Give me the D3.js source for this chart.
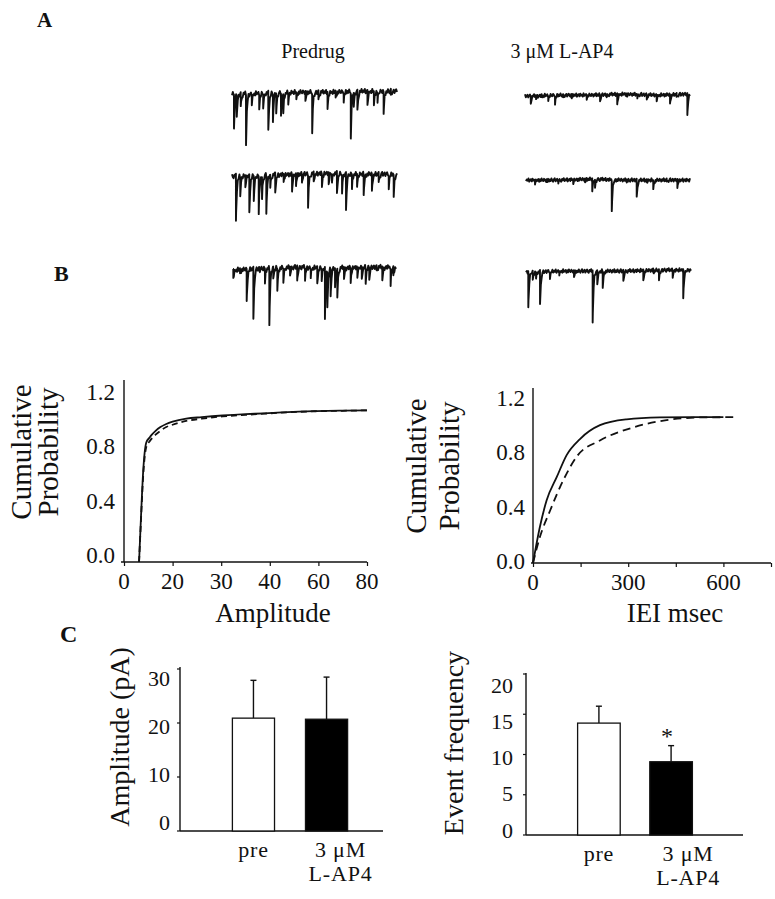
<!DOCTYPE html>
<html><head><meta charset="utf-8">
<script src="https://cdn.jsdelivr.net/npm/d3@7"></script>
<style>
body{margin:0;background:#fff}
svg{display:block}
text{font-family:"Liberation Serif","Times New Roman",serif;fill:#111}
</style>
</head><body>
<svg id="fig" width="775" height="899"></svg>
<script>
// ---------------- DATA ----------------
const conditions = ["Predrug", "3 μM L-AP4"];

// spontaneous events: [time ms (0-1000 sweep), amplitude pA]
const predrug1Events = [[12,34],[29,20],[53,14],[85,50],[120,10],[165,14],[189,14],[220,39],[248,27],[268,20],[297,22],[311,19],[341,10],[390,7],[445,10],[486,39],[524,9],[579,17],[628,7],[677,9],[720,45],[738,14],[760,20],[821,15],[860,14],[882,10],[919,22],[963,6]];
const predrug2Events = [[24,47],[50,18],[81,12],[105,38],[132,25],[162,38],[182,22],[208,37],[232,13],[262,20],[313,8],[364,17],[388,13],[424,8],[461,32],[495,10],[545,13],[586,12],[606,8],[636,22],[667,18],[691,38],[727,15],[758,13],[798,20],[848,17],[889,10],[950,13],[980,22]];
const predrug3Events = [[2,9],[43,5],[84,32],[125,52],[161,4],[196,15],[223,55],[247,12],[272,22],[309,14],[350,9],[394,15],[442,12],[477,9],[517,17],[544,12],[564,52],[579,35],[599,27],[626,19],[640,29],[681,12],[722,15],[763,9],[790,12],[814,15],[836,12],[881,5],[916,14],[967,17],[984,9]];
const lap1Events = [[35,7],[67,4],[101,3],[141,4],[182,8],[232,3],[283,3],[374,3],[455,6],[495,3],[559,11],[616,3],[681,3],[738,4],[798,5],[879,9],[919,4],[984,22]];
const lap2Events = [[55,3],[126,3],[197,2],[288,3],[360,4],[404,13],[421,8],[523,30],[614,3],[675,18],[736,3],[776,9],[858,3],[923,9]];
const lap3Events = [[14,36],[41,9],[61,6],[85,34],[145,6],[202,3],[291,7],[404,52],[432,14],[465,16],[590,11],[711,11],[771,4],[806,11],[889,6],[953,29]];

// slow baseline drift (pA, + = inward/down), evenly over the sweep
const predrug1Drift = [1,0,-1,-1,-2,-2];
const predrug2Drift = [1,0,-1,-2,-1,-1];
const predrug3Drift = [2,0,-1,0,-1,-1];
const lap1Drift = [1,0,0,-1,0,-1];
const lap2Drift = [0,0,-1,0,0,0];
const lap3Drift = [1,0,0,0,-1,-1];
// recording noise read as baseline thickness (normalised)
const baselineNoise = [0.6,-0.9,0.3,1.0,-0.4,-1.0,0.8,0.1,-0.7,0.9,-0.2,-0.8,0.5,1.0,-0.6,0.2,-1.0,0.7,-0.3,0.4,-0.9,1.0,0.0,-0.5,0.8,-0.8,0.3,-0.2,0.9,-1.0,0.5,0.1,-0.6,1.0,-0.4,0.7,-0.9,0.2,0.6,-0.7,-0.1,0.9,-0.5,0.4,-1.0,0.8,-0.3];

// cumulative amplitude distributions
const ampTicks = [0,20,30,40,60,80];
const ampX    = [6.2, 7, 7.9, 9.2, 10.5, 11.2, 13, 15, 17.4, 20, 22.8, 26, 30.3, 35, 38.8, 45, 52, 59, 70, 80];
const ampPre  = [0, 0.3, 0.6, 0.79, 0.82, 0.835, 0.865, 0.89, 0.91, 0.925, 0.945, 0.955, 0.966, 0.975, 0.98, 0.987, 0.992, 0.995, 0.998, 1.0];
const ampDrug = [0, 0.28, 0.57, 0.76, 0.795, 0.81, 0.84, 0.865, 0.89, 0.905, 0.93, 0.945, 0.96, 0.97, 0.978, 0.985, 0.99, 0.994, 0.997, 1.0];
const probTicks = [0, 0.4, 0.8, 1.2];

// cumulative inter-event interval distributions
const ieiTicks = [0,150,300,450,600,750];
const ieiLabels = [0,300,600];
const ieiPreT  = [0, 22, 43, 75, 106, 148, 211, 295, 400, 500, 600];
const ieiPreP  = [0, 0.25, 0.43, 0.59, 0.74, 0.85, 0.945, 0.985, 0.998, 1.0, 1.0];
const ieiDrugT = [0, 22, 54, 96, 138, 211, 316, 421, 526, 631];
const ieiDrugP = [0, 0.18, 0.36, 0.57, 0.73, 0.84, 0.93, 0.98, 0.998, 1.0];

// bar summaries
const groups = ["pre", "3 μM\nL-AP4"];
const ampMean = [20.9, 20.7];
const ampErr  = [7.0, 7.8];
const ampBarTicks = [0,10,20,30];
const freqMean = [13.9, 9.1];
const freqErr  = [2.1, 2.0];
const freqBarTicks = [0,5,10,15,20];
const freqSig = ["", "*"];

// ---------------- DRAW ----------------
const svg = d3.select("#fig");
const ink = "#111";

function label(txt, x, y, size, opts={}) {
  const t = svg.append("text").attr("x", x).attr("y", y).attr("font-size", size).text(txt);
  if (opts.anchor) t.attr("text-anchor", opts.anchor);
  if (opts.bold) t.attr("font-weight", "bold");
  if (opts.rotate) t.attr("transform", `rotate(-90 ${x} ${y})`);
  return t;
}

// panel letters
label("A", 37, 27, 21, {bold:true});
label("B", 54, 281, 22, {bold:true});
label("C", 60, 642, 24, {bold:true});

// column headers
label(conditions[0], 313, 58, 20, {anchor:"middle"});
label(conditions[1], 562, 58, 20, {anchor:"middle"});

// traces
function drawTrace(events, drift, noiseOffset, noiseAmp, x0, x1, yBase) {
  const x = d3.scaleLinear().domain([0,1000]).range([x0,x1]);
  const y = d3.scaleLinear().domain([0,60]).range([yBase, yBase+60]);
  const driftScale = d3.scaleLinear()
    .domain(drift.map((d,i)=>i*1000/(drift.length-1))).range(drift);
  const tau = 5, step = 5;
  const times = d3.range(0, 1000.001, step);
  events.forEach(([t]) => { times.push(t-0.3, t); });
  times.sort((a,b)=>a-b);
  const pts = times.map(t => {
    const gi = Math.round(t/step);
    let v = driftScale(Math.max(0,Math.min(1000,t))) +
            baselineNoise[(gi + noiseOffset) % baselineNoise.length]*noiseAmp;
    for (const [te,a] of events) if (t >= te) v += a*Math.exp(-(t-te)/tau);
    return [x(t), y(v)];
  });
  svg.append("path").attr("d", d3.line()(pts))
    .attr("fill","none").attr("stroke",ink).attr("stroke-width",1.9)
    .attr("stroke-linejoin","round");
}
drawTrace(predrug1Events, predrug1Drift, 0, 2.2, 232, 397, 93);
drawTrace(predrug2Events, predrug2Drift, 11, 2.2, 232, 397, 175);
drawTrace(predrug3Events, predrug3Drift, 23, 2.2, 233, 396, 268);
drawTrace(lap1Events, lap1Drift, 5, 1.7, 525, 690, 95);
drawTrace(lap2Events, lap2Drift, 17, 1.7, 526, 690, 180);
drawTrace(lap3Events, lap3Drift, 31, 1.8, 526, 691, 271);

// ---- cumulative plots ----
function cumPlot(cfg) {
  const g = svg.append("g");
  g.append("line").attr("x1",cfg.x.range()[0]).attr("x2",cfg.x.range()[0])
    .attr("y1",cfg.y(0)).attr("y2",cfg.yTop).attr("stroke",ink).attr("stroke-width",1.4);
  const ax = g.append("g").attr("transform",`translate(0,${cfg.y(0)})`)
    .call(d3.axisBottom(cfg.x).tickValues(cfg.xTicks).tickSize(4).tickSizeOuter(0).tickFormat(""));
  ax.select(".domain").attr("stroke",ink).attr("stroke-width",1.4)
    .attr("d", `M${cfg.xStart},0H${cfg.xEnd}`);
  ax.selectAll(".tick line").attr("stroke",ink).attr("stroke-width",1.2);
  g.selectAll(".xl").data(cfg.xLabels).join("text")
    .attr("x", d=>cfg.x(d)).attr("y", cfg.y(0)+27).attr("text-anchor","middle")
    .attr("font-size",23).text(d=>d);
  g.selectAll(".yl").data(probTicks).join("text")
    .attr("x", cfg.yLabX).attr("y", d=>cfg.yLab(d)).attr("dy","0.35em")
    .attr("text-anchor","end").attr("font-size",23).text(d3.format(".1f"));
  const line = d3.line().x(d=>cfg.x(d[0])).y(d=>cfg.y(d[1])).curve(d3.curveMonotoneX);
  g.append("path").attr("d", line(d3.zip(cfg.preX, cfg.preP)))
    .attr("fill","none").attr("stroke",ink).attr("stroke-width",1.8);
  g.append("path").attr("d", line(d3.zip(cfg.drugX, cfg.drugP)))
    .attr("fill","none").attr("stroke",ink).attr("stroke-width",1.8)
    .attr("stroke-dasharray", cfg.dash);
  label("Cumulative", cfg.titleX1, cfg.titleCy, 29, {anchor:"middle", rotate:true});
  label("Probability", cfg.titleX2, cfg.titleCy, 29, {anchor:"middle", rotate:true});
  label(cfg.xTitle, cfg.xTitleX, 622, 27, {anchor:"middle"});
}

const xAmp = d3.scaleLinear().domain(ampTicks).range(ampTicks.map((d,i)=>124 + i*48.6));
cumPlot({
  x: xAmp, y: d3.scaleLinear().domain([0,1.2]).range([562,380]), yTop: 380,
  yLab: d3.scaleLinear().domain([0,1.2]).range([555,392]), yLabX: 115,
  xTicks: ampTicks, xLabels: ampTicks, xStart: 121, xEnd: 367,
  preX: ampX, preP: ampPre, drugX: ampX, drugP: ampDrug, dash: "6,4",
  titleX1: 31, titleX2: 58, titleCy: 452, xTitle: "Amplitude", xTitleX: 273
});
const xIEI = d3.scaleLinear().domain([0,750]).range([533,771]);
cumPlot({
  x: xIEI, y: d3.scaleLinear().domain([0,1.2]).range([563,388]), yTop: 388,
  yLab: d3.scaleLinear().domain([0,1.2]).range([561,398]), yLabX: 525,
  xTicks: ieiTicks, xLabels: ieiLabels, xStart: 531, xEnd: 771,
  preX: ieiPreT, preP: ieiPreP, drugX: ieiDrugT, drugP: ieiDrugP, dash: "8,5",
  titleX1: 426, titleX2: 459, titleCy: 466, xTitle: "IEI msec", xTitleX: 675
});

// ---- bar charts ----
function barPlot(cfg) {
  const g = svg.append("g");
  const x = d3.scaleBand().domain(groups).range(cfg.xRange).paddingInner(cfg.pi).paddingOuter(cfg.po);
  const y = cfg.y;
  g.append("line").attr("x1",cfg.xRange[0]).attr("x2",cfg.xRange[0])
    .attr("y1",y(0)).attr("y2",cfg.yTop).attr("stroke",ink).attr("stroke-width",1.4);
  g.append("line").attr("x1",cfg.xRange[0]).attr("x2",cfg.xEnd)
    .attr("y1",y(0)).attr("y2",y(0)).attr("stroke",ink).attr("stroke-width",1.6);
  g.selectAll(".tk").data(cfg.ticks).join("line")
    .attr("x1",cfg.xRange[0]-3).attr("x2",cfg.xRange[0])
    .attr("y1",d=>y(d)).attr("y2",d=>y(d)).attr("stroke",ink).attr("stroke-width",1.2);
  g.selectAll(".tl").data(cfg.ticks).join("text")
    .attr("x",cfg.labX).attr("y",d=>cfg.yLab(d)).attr("dy","0.35em")
    .attr("text-anchor","end").attr("font-size",22).text(d=>d);
  g.selectAll(".eb").data(groups).join("line")
    .attr("x1",d=>x(d)+x.bandwidth()/2).attr("x2",d=>x(d)+x.bandwidth()/2)
    .attr("y1",(d,i)=>y(cfg.mean[i])).attr("y2",(d,i)=>y(cfg.mean[i]+cfg.err[i]))
    .attr("stroke",ink).attr("stroke-width",1.4);
  g.selectAll(".ec").data(groups).join("line")
    .attr("x1",d=>x(d)+x.bandwidth()/2-3).attr("x2",d=>x(d)+x.bandwidth()/2+3)
    .attr("y1",(d,i)=>y(cfg.mean[i]+cfg.err[i])).attr("y2",(d,i)=>y(cfg.mean[i]+cfg.err[i]))
    .attr("stroke",ink).attr("stroke-width",1.4);
  g.selectAll(".bar").data(groups).join("rect")
    .attr("x",d=>x(d)+0.5).attr("width",x.bandwidth()-1)
    .attr("y",(d,i)=>y(cfg.mean[i])).attr("height",(d,i)=>y(0)-y(cfg.mean[i]))
    .attr("fill",(d,i)=>i===0?"#fff":"#000").attr("stroke",ink).attr("stroke-width",1.3);
  if (cfg.sig) g.selectAll(".sg").data(groups).join("text")
    .attr("x",d=>x(d)+x.bandwidth()/2-4).attr("y",(d,i)=>y(cfg.mean[i]+cfg.err[i])-2)
    .attr("text-anchor","middle").attr("font-size",24).text((d,i)=>cfg.sig[i]);
  g.selectAll(".cl").data(groups).join("text")
    .attr("x",(d,i)=>x(d)+x.bandwidth()/2+(i===0?0:cfg.lab2dx))
    .attr("y",y(0)+26).attr("text-anchor","middle").attr("font-size",22)
    .attr("letter-spacing", 0.8)
    .each(function(d){
      const el = d3.select(this);
      d.split("\n").forEach((s,j)=>el.append("tspan")
        .attr("x",el.attr("x")).attr("dy", j===0?0:"1.1em").text(s));
    });
  label(cfg.yTitle, cfg.yTitleX, cfg.yTitleCy, 28, {anchor:"middle", rotate:true});
}

barPlot({
  xRange:[180,400], xEnd:383, pi:0.41, po:0.71,
  y: d3.scaleLinear().domain([0,30]).range([831,669]), yTop: 667,
  yLab: d3.scaleLinear().domain([0,30]).range([822,678]), labX: 170,
  ticks: ampBarTicks, mean: ampMean, err: ampErr, lab2dx: 14,
  yTitle: "Amplitude (pA)", yTitleX: 129, yTitleCy: 737
});
barPlot({
  xRange:[526,744], xEnd:743, pi:0.396, po:0.708,
  y: d3.scaleLinear().domain([0,20]).range([835,674]), yTop: 673,
  yLab: d3.scaleLinear().domain([0,20]).range([830,685]), labX: 513,
  ticks: freqBarTicks, mean: freqMean, err: freqErr, lab2dx: 17, sig: freqSig,
  yTitle: "Event frequency", yTitleX: 463, yTitleCy: 743
});
</script>
</body></html>
